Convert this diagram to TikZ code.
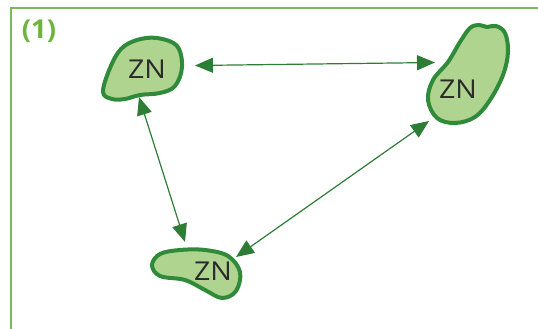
\documentclass[tikz,border=0pt]{standalone}
\usepackage{fontspec}
\setmainfont{Open Sans}
\usetikzlibrary{arrows.meta}
\definecolor{framegreen}{HTML}{7DB75A}
\definecolor{labelgreen}{HTML}{6DB33F}
\definecolor{arrowgreen}{HTML}{2E7D36}
\definecolor{blobfill}{HTML}{AED48F}
\definecolor{bloboutline}{HTML}{2F8A3A}
\definecolor{zntext}{HTML}{2B2B2B}
\tikzset{
  blob/.style={draw=bloboutline, fill=blobfill, line width=4pt, line join=round},
  zn/.style={text=zntext, font=\fontsize{26}{26}\selectfont, inner sep=0pt, xscale=1.1, transform shape},
  link/.style={draw=arrowgreen, line width=1.2pt, {Triangle[length=18pt,width=15pt]}-{Triangle[length=18pt,width=15pt]}},
  frameline/.style={draw=framegreen, line width=1.5pt}
}
\begin{document}
\begin{tikzpicture}[x=1pt,y=-1pt]
\useasboundingbox (0,0) rectangle (538,329);
% frame
\draw[frameline] (11,329) -- (11,8) -- (538,8);
\node[text=labelgreen, font=\bfseries\fontsize{26}{26}\selectfont, inner sep=0pt, xscale=1.05, transform shape] (lbl) at (39,31) {(1)};
% blobs
\path[blob] plot[smooth cycle, tension=0.6] coordinates {(103,92) (112,99) (125,99) (140,95) (160,93) (175,86) (182,67) (177,46) (157,38) (137,40) (121,49) (110,68)};
\path[blob] plot[smooth cycle, tension=0.6] coordinates {(470,28) (479,25) (487,27) (496,26) (505,33) (508,52) (503,75) (490,100) (475,117) (455,123) (437,118) (428,100) (433,80) (448,62) (460,42)};
\path[blob] plot[smooth cycle, tension=0.6] coordinates {(152,265) (160,254) (180,250) (205,250) (228,256) (240,272) (236,291) (222,298) (205,290) (185,280) (160,276)};
\node[zn] (zn1) at (147,69) {ZN};
\node[zn] (zn2) at (458,89) {ZN};
\node[zn] (zn3) at (213,271) {ZN};
% arrow endpoints
\coordinate (a1) at (195,65.5);
\coordinate (a2) at (435,62.5);
\coordinate (b1) at (139,97);
\coordinate (b2) at (185,242);
\coordinate (c1) at (429,121);
\coordinate (c2) at (236,257);
\draw[link] (a1) -- (a2);
\draw[link] (b1) -- (b2);
\draw[link] (c1) -- (c2);
\end{tikzpicture}
\end{document}
